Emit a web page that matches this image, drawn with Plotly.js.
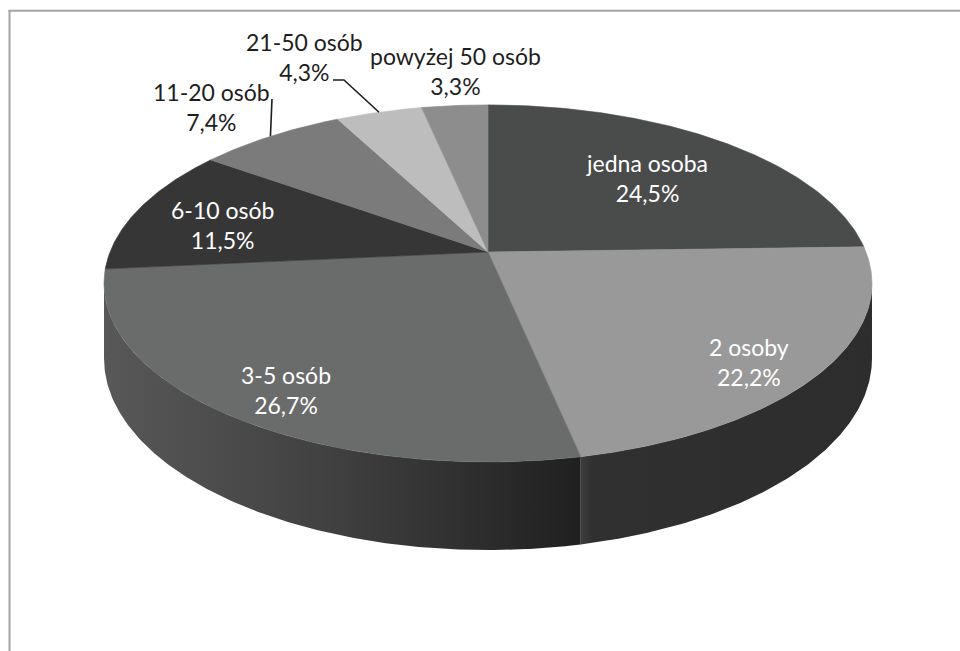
<!DOCTYPE html>
<html>
<head>
<meta charset="utf-8">
<script src="https://cdn.plot.ly/plotly-3.0.1.min.js"></script>
<style>html,body{margin:0;padding:0;background:#fff;}#chart{width:960px;height:651px;}</style>
</head>
<body>
<div id="chart"></div>
<script>
// ---- data ----
const categories = ['jedna osoba', '2 osoby', '3-5 osób', '6-10 osób', '11-20 osób', '21-50 osób', 'powyżej 50 osób'];
const shares = [24.5, 22.2, 26.7, 11.5, 7.4, 4.3, 3.3];

// ---- styles ----
const topColors = ['#4a4b4b', '#999999', '#6a6b6b', '#363636', '#7b7b7b', '#bdbdbd', '#8d8d8d'];
const wallScales = [
  [[0, '#3a3a3a'], [1, '#2e2e2e']],
  [[0, '#3e3e3e'], [0.04, '#303030'], [1, '#2d2d2d']],
  [[0, '#585858'], [0.5, '#3f3f3f'], [1, '#202020']],
  [[0, '#2a2a2a'], [1, '#2a2a2a']],
  [[0, '#555555'], [1, '#555555']],
  [[0, '#888888'], [1, '#888888']],
  [[0, '#666666'], [1, '#666666']]
];
const labelColors = ['#ffffff', '#ffffff', '#ffffff', '#ffffff', '#1e1e1e', '#1e1e1e', '#1e1e1e'];
// label block centres (pixels)
const labelPos = [[647, 178], [749, 362], [286, 390], [222, 225], [211, 107], [304, 57], [455, 71]];
// leader line extra vertices (from the slice edge toward the label), null = none
const leaders = [null, null, null, null, [[272, 99]], [[344, 80], [333, 80]], null];

// ---- geometry of the tilted disc ----
const G = {cx: 488, cy: 252, R: 378, B: 173, k: 0.176, D: 72.6};
function proj(deg, drop) {
  const t = deg * Math.PI / 180, u = Math.sin(t), v = Math.cos(t), s = 1 / (1 + G.k * v);
  return [G.cx + G.R * u * s, G.cy - G.B * v * s + (drop ? G.D * s : 0)];
}
function arc(a0, a1, drop) {
  const pts = [];
  const n = Math.max(2, Math.ceil(Math.abs(a1 - a0) / 0.5));
  for (let i = 0; i <= n; i++) pts.push(proj(a0 + (a1 - a0) * i / n, drop));
  return pts;
}

const total = shares.reduce((a, b) => a + b, 0);
const starts = [], ends = [];
let acc = 0;
shares.forEach(v => { starts.push(acc / total * 360); acc += v; ends.push(acc / total * 360); });

const visLo = 180 - Math.acos(G.k) * 180 / Math.PI; // right silhouette extreme
const visHi = 360 - visLo;                          // left silhouette extreme

const traces = [];
// walls, back to front
const wallOrder = categories.map((c, i) => i)
  .sort((a, b) => Math.cos((starts[b] + ends[b]) / 2 * Math.PI / 180) - Math.cos((starts[a] + ends[a]) / 2 * Math.PI / 180) < 0 ? -1 : 1);
wallOrder.forEach(i => {
  const a0 = Math.max(starts[i], visLo), a1 = Math.min(ends[i], visHi);
  if (a1 <= a0) return;
  const top = arc(a0, a1, false), bot = arc(a1, a0, true);
  const pts = top.concat(bot);
  pts.push(top[0]);
  traces.push({
    type: 'scatter', mode: 'lines', x: pts.map(p => p[0]), y: pts.map(p => p[1]),
    fill: 'toself', fillcolor: wallScales[i][wallScales[i].length - 1][1],
    fillgradient: {type: 'horizontal', colorscale: wallScales[i]},
    line: {width: 0}, hoverinfo: 'skip', showlegend: false
  });
});
// top faces
categories.forEach((c, i) => {
  const pts = [[G.cx, G.cy]].concat(arc(starts[i], ends[i], false));
  pts.push([G.cx, G.cy]);
  traces.push({
    type: 'scatter', mode: 'lines', x: pts.map(p => p[0]), y: pts.map(p => p[1]),
    fill: 'toself', fillcolor: topColors[i],
    line: {width: 0.6, color: topColors[i]}, hoverinfo: 'skip', showlegend: false
  });
});
// leader lines
categories.forEach((c, i) => {
  if (!leaders[i]) return;
  const pts = [proj((starts[i] + ends[i]) / 2, false)].concat(leaders[i]);
  traces.push({
    type: 'scatter', mode: 'lines', x: pts.map(p => p[0]), y: pts.map(p => p[1]),
    line: {width: 1.6, color: '#1e1e1e'}, hoverinfo: 'skip', showlegend: false
  });
});

const annotations = categories.map((c, i) => ({
  xref: 'x', yref: 'y', x: labelPos[i][0], y: labelPos[i][1],
  text: c + '<br>' + shares[i].toFixed(1).replace('.', ',') + '%',
  showarrow: false, xanchor: 'center', yanchor: 'middle', align: 'center',
  font: {family: 'Lato, sans-serif', size: 23, color: labelColors[i]}
}));

const layout = {
  width: 960, height: 651,
  margin: {l: 0, r: 0, t: 0, b: 0},
  paper_bgcolor: '#ffffff', plot_bgcolor: '#ffffff',
  xaxis: {range: [0, 960], visible: false, fixedrange: true},
  yaxis: {range: [651, 0], visible: false, fixedrange: true},
  showlegend: false,
  annotations: annotations,
  shapes: [
    {type: 'line', xref: 'x', yref: 'y', x0: 8.5, x1: 960, y0: 10.8, y1: 10.8, line: {color: '#a3a3a3', width: 2}},
    {type: 'line', xref: 'x', yref: 'y', x0: 9.5, x1: 9.5, y0: 10, y1: 651, line: {color: '#a3a3a3', width: 2}}
  ]
};
Plotly.newPlot('chart', traces, layout, {staticPlot: true, displayModeBar: false});
</script>
</body>
</html>
